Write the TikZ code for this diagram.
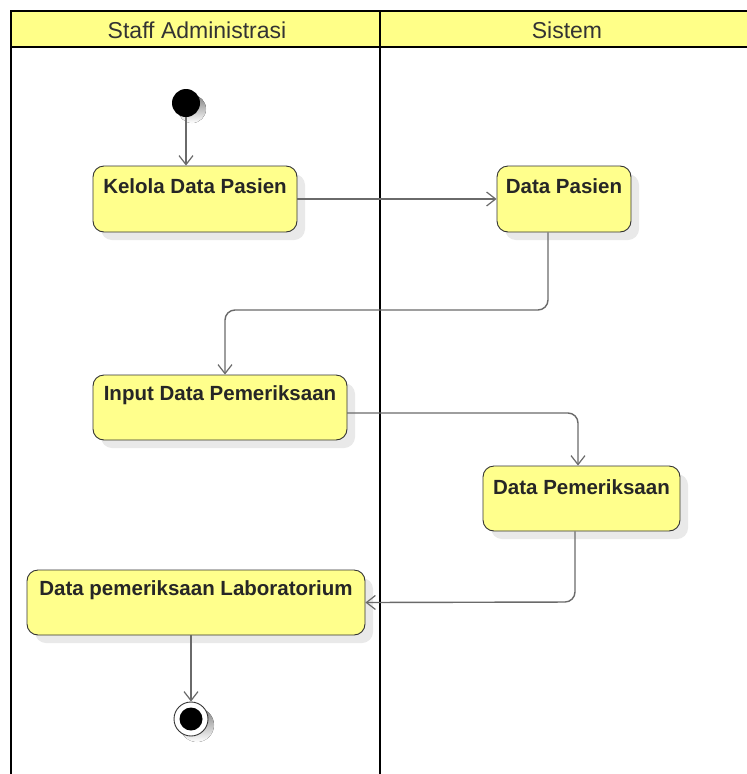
\documentclass[tikz,border=0pt]{standalone}
\usepackage{fontspec}
\setmainfont{Liberation Sans}
\usetikzlibrary{arrows.meta}
\definecolor{actfill}{HTML}{FFFF8C}
\definecolor{hdrfill}{HTML}{FFFF88}
\definecolor{edge}{HTML}{6A6A6A}
\definecolor{shade}{HTML}{E9E9E9}
\begin{document}
\begin{tikzpicture}[x=1pt,y=-1pt,
  act/.style={draw=black!80, line width=0.9pt, fill=actfill, rounded corners=11pt,
    preaction={fill=shade, transform canvas={shift={(8,8)}}}, inner sep=0pt},
  lbl/.style={font=\fontsize{20.5}{24}\selectfont\bfseries, text=black!85, inner sep=0pt},
  hdr/.style={font=\fontsize{23}{26}\selectfont, text=black!80, inner sep=0pt},
  flow/.style={draw=edge, line width=1.4pt, rounded corners=10pt,
    -{Straight Barb[length=9pt,width=14pt,line width=1.2pt]}},
  lane/.style={line width=2.4pt, draw=black}]
\useasboundingbox (0,0) rectangle (747,774);
\clip (0,0) rectangle (747,774);
\fill[white] (0,0) rectangle (747,774);
% swimlane frame
\fill[hdrfill] (11,11) rectangle (770,47);
\draw[lane] (11,790) -- (11,11) -- (770,11);
\draw[lane] (11,47) -- (770,47);
\draw[lane] (380,11) -- (380,790);
\node[hdr] (h1) at (197,30) {Staff Administrasi};
\node[hdr] (h2) at (567,30) {Sistem};
% start
\fill[shade] (192,109) circle (14);
\node[circle, fill=black, minimum size=28pt, inner sep=0pt] (start) at (186,103) {};
% activities
\node[act, minimum width=204pt, minimum height=66pt] (kel) at (195,199) {};
\node[lbl] (kelt) at (195,186) {Kelola Data Pasien};
\node[act, minimum width=134pt, minimum height=66pt] (dp) at (564,199) {};
\node[lbl] (dpt) at (564,186) {Data Pasien};
\node[act, minimum width=254pt, minimum height=65pt] (inp) at (220,407.5) {};
\node[lbl] (inpt) at (220,395) {Input Data Pemeriksaan};
\node[act, minimum width=197pt, minimum height=65pt] (dpm) at (581.5,498.5) {};
\node[lbl] (dpmt) at (581.5,487) {Data Pemeriksaan};
\node[act, minimum width=338pt, minimum height=65pt] (lab) at (196,602.5) {};
\node[lbl] (labt) at (196,590) {Data pemeriksaan Laboratorium};
% end
\fill[shade] (197,725) circle (17);
\node[circle, draw=black!80, line width=0.9pt, fill=white, minimum size=34pt, inner sep=0pt] (end) at (191,719) {};
\node[circle, fill=black, minimum size=23pt, inner sep=0pt] (endin) at (end.center) {};
% connectors
\coordinate (c1) at (548,310);
\coordinate (c2) at (347,413);
\draw[flow] (start.south) -- (start.south |- kel.north);
\draw[flow] (kel.east) -- (dp.west);
\draw[flow] (dp.south -| c1) -- (c1) -- (225,310) -- (225,310 |- inp.north);
\draw[flow] (c2) -| (578,0 |- dpm.north);
\draw[flow] (575,0 |- dpm.south) -- (575,602) -- (lab.east);
\draw[flow] (lab.south -| end) -- (end.north);
\end{tikzpicture}
\end{document}
